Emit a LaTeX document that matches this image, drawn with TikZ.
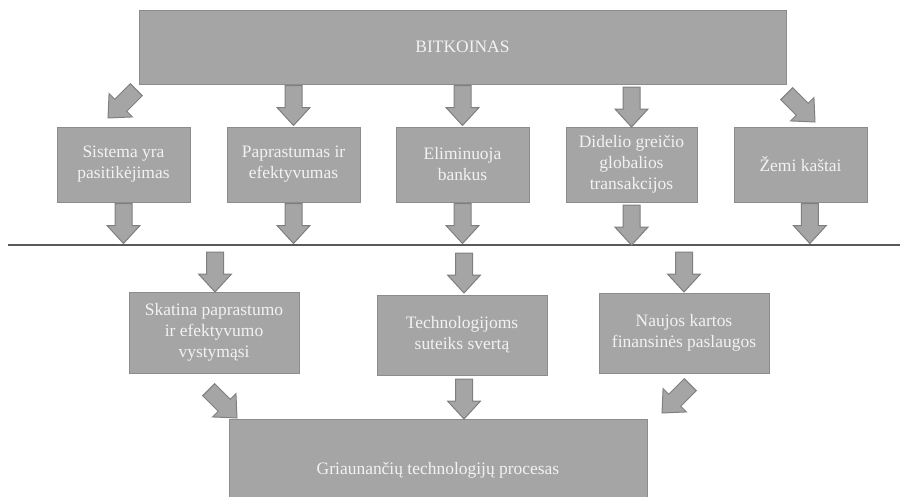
\documentclass[tikz,border=0pt]{standalone}
\usepackage{fontspec}
\setmainfont{Liberation Serif}
\definecolor{boxfill}{HTML}{A5A5A5}
\definecolor{boxline}{HTML}{8C8C8C}
\definecolor{arrowline}{HTML}{7F7F7F}
\definecolor{rulecol}{HTML}{595959}
\tikzset{
  box/.style={draw=boxline, fill=boxfill, line width=0.75pt, text=white!95!black,
    font=\fontsize{13.1}{15.75}\selectfont, align=center, inner sep=0pt},
  blockarrow/.pic={
    \filldraw[fill=boxfill, draw=arrowline, line width=0.75pt, line join=miter]
      (0,-8.5) -- (22,-8.5) -- (22,-16.5) -- (40,0) -- (22,16.5) -- (22,8.5) -- (0,8.5) -- cycle;
  },
  divider/.style={draw=rulecol, line width=1.1pt}
}
\begin{document}
\begin{tikzpicture}[x=0.75pt,y=-0.75pt]
\useasboundingbox (0,0) rectangle (909,496);
\clip (0,0) rectangle (909,496);

% source box
\node[box, minimum width={647*0.75pt}, minimum height={74*0.75pt}] (top) at (462.5,47) {BITKOINAS};

% first row of properties
\node[box, minimum width={133*0.75pt}, minimum height={75*0.75pt}] (b1) at (123.5,164.5) {Sistema yra\\pasitikėjimas};
\node[box, minimum width={133*0.75pt}, minimum height={75*0.75pt}] (b2) at (293.5,164.5) {Paprastumas ir\\efektyvumas};
\node[box, minimum width={133*0.75pt}, minimum height={75*0.75pt}] (b3) at (462.5,164.5) {Eliminuoja\\bankus};
\node[box, minimum width={131*0.75pt}, minimum height={75*0.75pt}] (b4) at (631.5,164.5) {Didelio greičio\\globalios\\transakcijos};
\node[box, minimum width={133*0.75pt}, minimum height={75*0.75pt}] (b5) at (800.5,164.5) {Žemi kaštai};

% second row of consequences
\node[box, minimum width={170*0.75pt}, minimum height={81*0.75pt}] (c1) at (214,332.5) {Skatina paprastumo\\ir efektyvumo\\vystymąsi};
\node[box, minimum width={170*0.75pt}, minimum height={80*0.75pt}] (c2) at (462,335) {Technologijoms\\suteiks svertą};
\node[box, minimum width={170*0.75pt}, minimum height={80*0.75pt}] (c3) at (684,333) {Naujos kartos\\finansinės paslaugos};

% result box
\node[box, minimum width={418*0.75pt}, minimum height={102*0.75pt}] (res) at (438,470) {Griaunančių technologijų procesas};

% divider between the two levels
\coordinate (divL) at (8,245);
\coordinate (divR) at (900,245);
\draw[divider] (divL) -- (divR);

% arrows from the source box
\pic[rotate=-135] at (136.3,89.7) {blockarrow};
\pic[rotate=-90] at ([yshift=-0.75pt]top.south -| b2) {blockarrow};
\pic[rotate=-90] at ([yshift=-0.75pt]top.south -| b3) {blockarrow};
\pic[rotate=-90] at (631.5,87) {blockarrow};
\pic[rotate=-45] at (786.7,93.7) {blockarrow};

% arrows below the first row
\pic[rotate=-90] at ([yshift=-0.75pt]b1.south) {blockarrow};
\pic[rotate=-90] at ([yshift=-0.75pt]b2.south) {blockarrow};
\pic[rotate=-90] at ([yshift=-0.75pt]b3.south) {blockarrow};
\pic[rotate=-90] at ([yshift=-2pt]b4.south) {blockarrow};
\pic[rotate=-90] at ([xshift=7pt,yshift=-0.75pt]b5.south) {blockarrow};

% arrows into the second row
\pic[rotate=-90] at (215,252) {blockarrow};
\pic[rotate=-90] at (464,253) {blockarrow};
\pic[rotate=-90] at (684,252) {blockarrow};

% arrows into the result box
\pic[rotate=-45] at (208.7,389.7) {blockarrow};
\pic[rotate=-90] at (464,379) {blockarrow};
\pic[rotate=-135] at (690.3,384.7) {blockarrow};
\end{tikzpicture}
\end{document}
